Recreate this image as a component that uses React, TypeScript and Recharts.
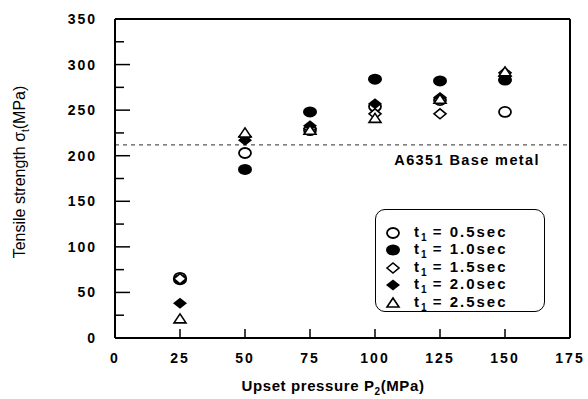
import { ScatterChart, Scatter, XAxis, YAxis, ReferenceLine, Legend } from "recharts";

// upset pressure P2 (MPa)
const pressures = [25, 50, 75, 100, 125, 150];

// tensile strength (MPa) for each upset time t1
const strength05 = [66, 203, 228, 254, 261, 248];
const strength10 = [64, 185, 248, 284, 282, 283];
const strength15 = [65, 221, 230, 246, 246, 291];
const strength20 = [38, 217, 233, 257, 264, 287];
const strength25 = [21, 225, 228, 241, 262, 292];

const timeLabels = ["0.5", "1.0", "1.5", "2.0", "2.5"];
const xTicks = [0, 25, 50, 75, 100, 125, 150, 175];
const yTicks = [0, 25, 50, 75, 100, 125, 150, 175, 200, 225, 250, 275, 300, 325, 350];
const baseMetal = 212;

const FONT = "'Liberation Sans', Arial, sans-serif";

type Kind = "openCircle" | "circle" | "openDiamond" | "diamond" | "triangle";
const kinds: Kind[] = ["openCircle", "circle", "openDiamond", "diamond", "triangle"];
const seriesValues = [strength05, strength10, strength15, strength20, strength25];

const Marker = ({ kind, cx, cy }: { kind: Kind; cx: number; cy: number }) => {
  switch (kind) {
    case "circle":
      return <ellipse cx={cx} cy={cy} rx={7} ry={5.5} fill="#000" />;
    case "openCircle":
      return <ellipse cx={cx} cy={cy} rx={6} ry={5} fill="#fff" stroke="#000" strokeWidth={1.8} />;
    case "diamond":
      return (
        <polygon
          points={`${cx - 7},${cy} ${cx},${cy - 5.5} ${cx + 7},${cy} ${cx},${cy + 5.5}`}
          fill="#000"
        />
      );
    case "openDiamond":
      return (
        <polygon
          points={`${cx - 6},${cy} ${cx},${cy - 5} ${cx + 6},${cy} ${cx},${cy + 5}`}
          fill="#fff"
          stroke="#000"
          strokeWidth={1.6}
        />
      );
    default:
      return (
        <polygon
          points={`${cx - 6},${cy + 4} ${cx},${cy - 5} ${cx + 6},${cy + 4}`}
          fill="#fff"
          stroke="#000"
          strokeWidth={1.6}
        />
      );
  }
};

const XTick = ({ x, y, payload }: any) => (
  <g>
    <line x1={x} y1={y} x2={x} y2={y - 9} stroke="#000" strokeWidth={1.5} />
    <text
      x={x}
      y={y + 25}
      textAnchor="middle"
      fontFamily={FONT}
      fontSize={14}
      fontWeight="bold"
      letterSpacing={2}
      fill="#000"
    >
      {payload.value}
    </text>
  </g>
);

const YTick = ({ x, y, payload }: any) => {
  const major = payload.value % 50 === 0;
  return (
    <g>
      <line x1={x} y1={y} x2={x + (major ? 15 : 9)} y2={y} stroke="#000" strokeWidth={1.5} />
      {major && (
        <text
          x={x - 18}
          y={y + 5}
          textAnchor="end"
          fontFamily={FONT}
          fontSize={14}
          fontWeight="bold"
          letterSpacing={2}
          fill="#000"
        >
          {payload.value}
        </text>
      )}
    </g>
  );
};

const XTitle = () => (
  <text x={333} y={391} textAnchor="middle" fill="#000" fontFamily={FONT} fontSize={15} fontWeight="bold" letterSpacing={0.6}>
    Upset pressure P
    <tspan fontSize={10} dy={4}>2</tspan>
    <tspan dy={-4}>(MPa)</tspan>
  </text>
);

const YTitle = () => (
  <text
    x={0}
    y={0}
    transform="translate(25,172) rotate(-90)"
    textAnchor="middle"
    fill="#000"
    fontFamily="'Liberation Sans Narrow', 'Liberation Sans', Arial, sans-serif"
    fontSize={16}
  >
    Tensile strength σ
    <tspan fontSize={10} dy={4}>t</tspan>
    <tspan dy={-4}>(MPa)</tspan>
  </text>
);

const BaseLabel = ({ viewBox }: any) => (
  <text
    x={viewBox.x + viewBox.width - 30}
    y={viewBox.y + 20}
    textAnchor="end"
    fill="#000"
    fontFamily={FONT}
    fontSize={14.5}
    fontWeight="bold"
    letterSpacing={1.4}
  >
    A6351 Base metal
  </text>
);

const LegendBox = () => (
  <div
    style={{
      width: 170,
      height: 103,
      boxSizing: "border-box",
      border: "1.5px solid #000",
      borderRadius: 10,
      background: "#fff",
      padding: "14px 0 0 8px",
      fontFamily: FONT,
      fontSize: 15,
      fontWeight: "bold",
      letterSpacing: 2,
      color: "#000",
    }}
  >
    {timeLabels.map((t, i) => (
      <div key={t} style={{ display: "flex", alignItems: "center", height: 17.5 }}>
        <svg width={20} height={14} style={{ marginRight: 10 }}>
          <Marker kind={kinds[i]} cx={9} cy={7} />
        </svg>
        <span>
          t<sub style={{ fontSize: 10, letterSpacing: 0 }}>1</sub> = {t}sec
        </span>
      </div>
    ))}
  </div>
);

export default function App() {
  return (
    <div style={{ position: "absolute", left: 0, top: 0, width: 588, height: 399, background: "#fff" }}>
      <ScatterChart width={588} height={399} margin={{ top: 19, right: 18, bottom: 0, left: 0 }}>
        <XAxis
          type="number"
          dataKey="x"
          domain={[0, 175]}
          ticks={xTicks}
          interval={0}
          height={61}
          axisLine={{ stroke: "#000", strokeWidth: 2 }}
          tickLine={false}
          tickSize={0}
          tickMargin={0}
          tick={<XTick />}
          label={<XTitle />}
        />
        <YAxis
          type="number"
          dataKey="y"
          domain={[0, 350]}
          ticks={yTicks}
          interval={0}
          width={115}
          axisLine={{ stroke: "#000", strokeWidth: 2 }}
          tickLine={false}
          tickSize={0}
          tickMargin={0}
          tick={<YTick />}
          label={<YTitle />}
        />
        <ReferenceLine y={350} stroke="#000" strokeWidth={2} />
        <ReferenceLine x={175} stroke="#000" strokeWidth={2} />
        <ReferenceLine y={baseMetal} stroke="#555" strokeWidth={1.2} strokeDasharray="4 4" label={<BaseLabel />} />
        {seriesValues.map((vals, i) => (
          <Scatter
            key={timeLabels[i]}
            name={`t1 = ${timeLabels[i]}sec`}
            data={pressures.map((p, j) => ({ x: p, y: vals[j] }))}
            isAnimationActive={false}
            shape={(props: any) => <Marker kind={kinds[i]} cx={props.cx} cy={props.cy} />}
          />
        ))}
        <Legend
          layout="vertical"
          align="center"
          verticalAlign="middle"
          content={<LegendBox />}
          wrapperStyle={{ left: 375, top: 209, width: 170 }}
        />
      </ScatterChart>
    </div>
  );
}
